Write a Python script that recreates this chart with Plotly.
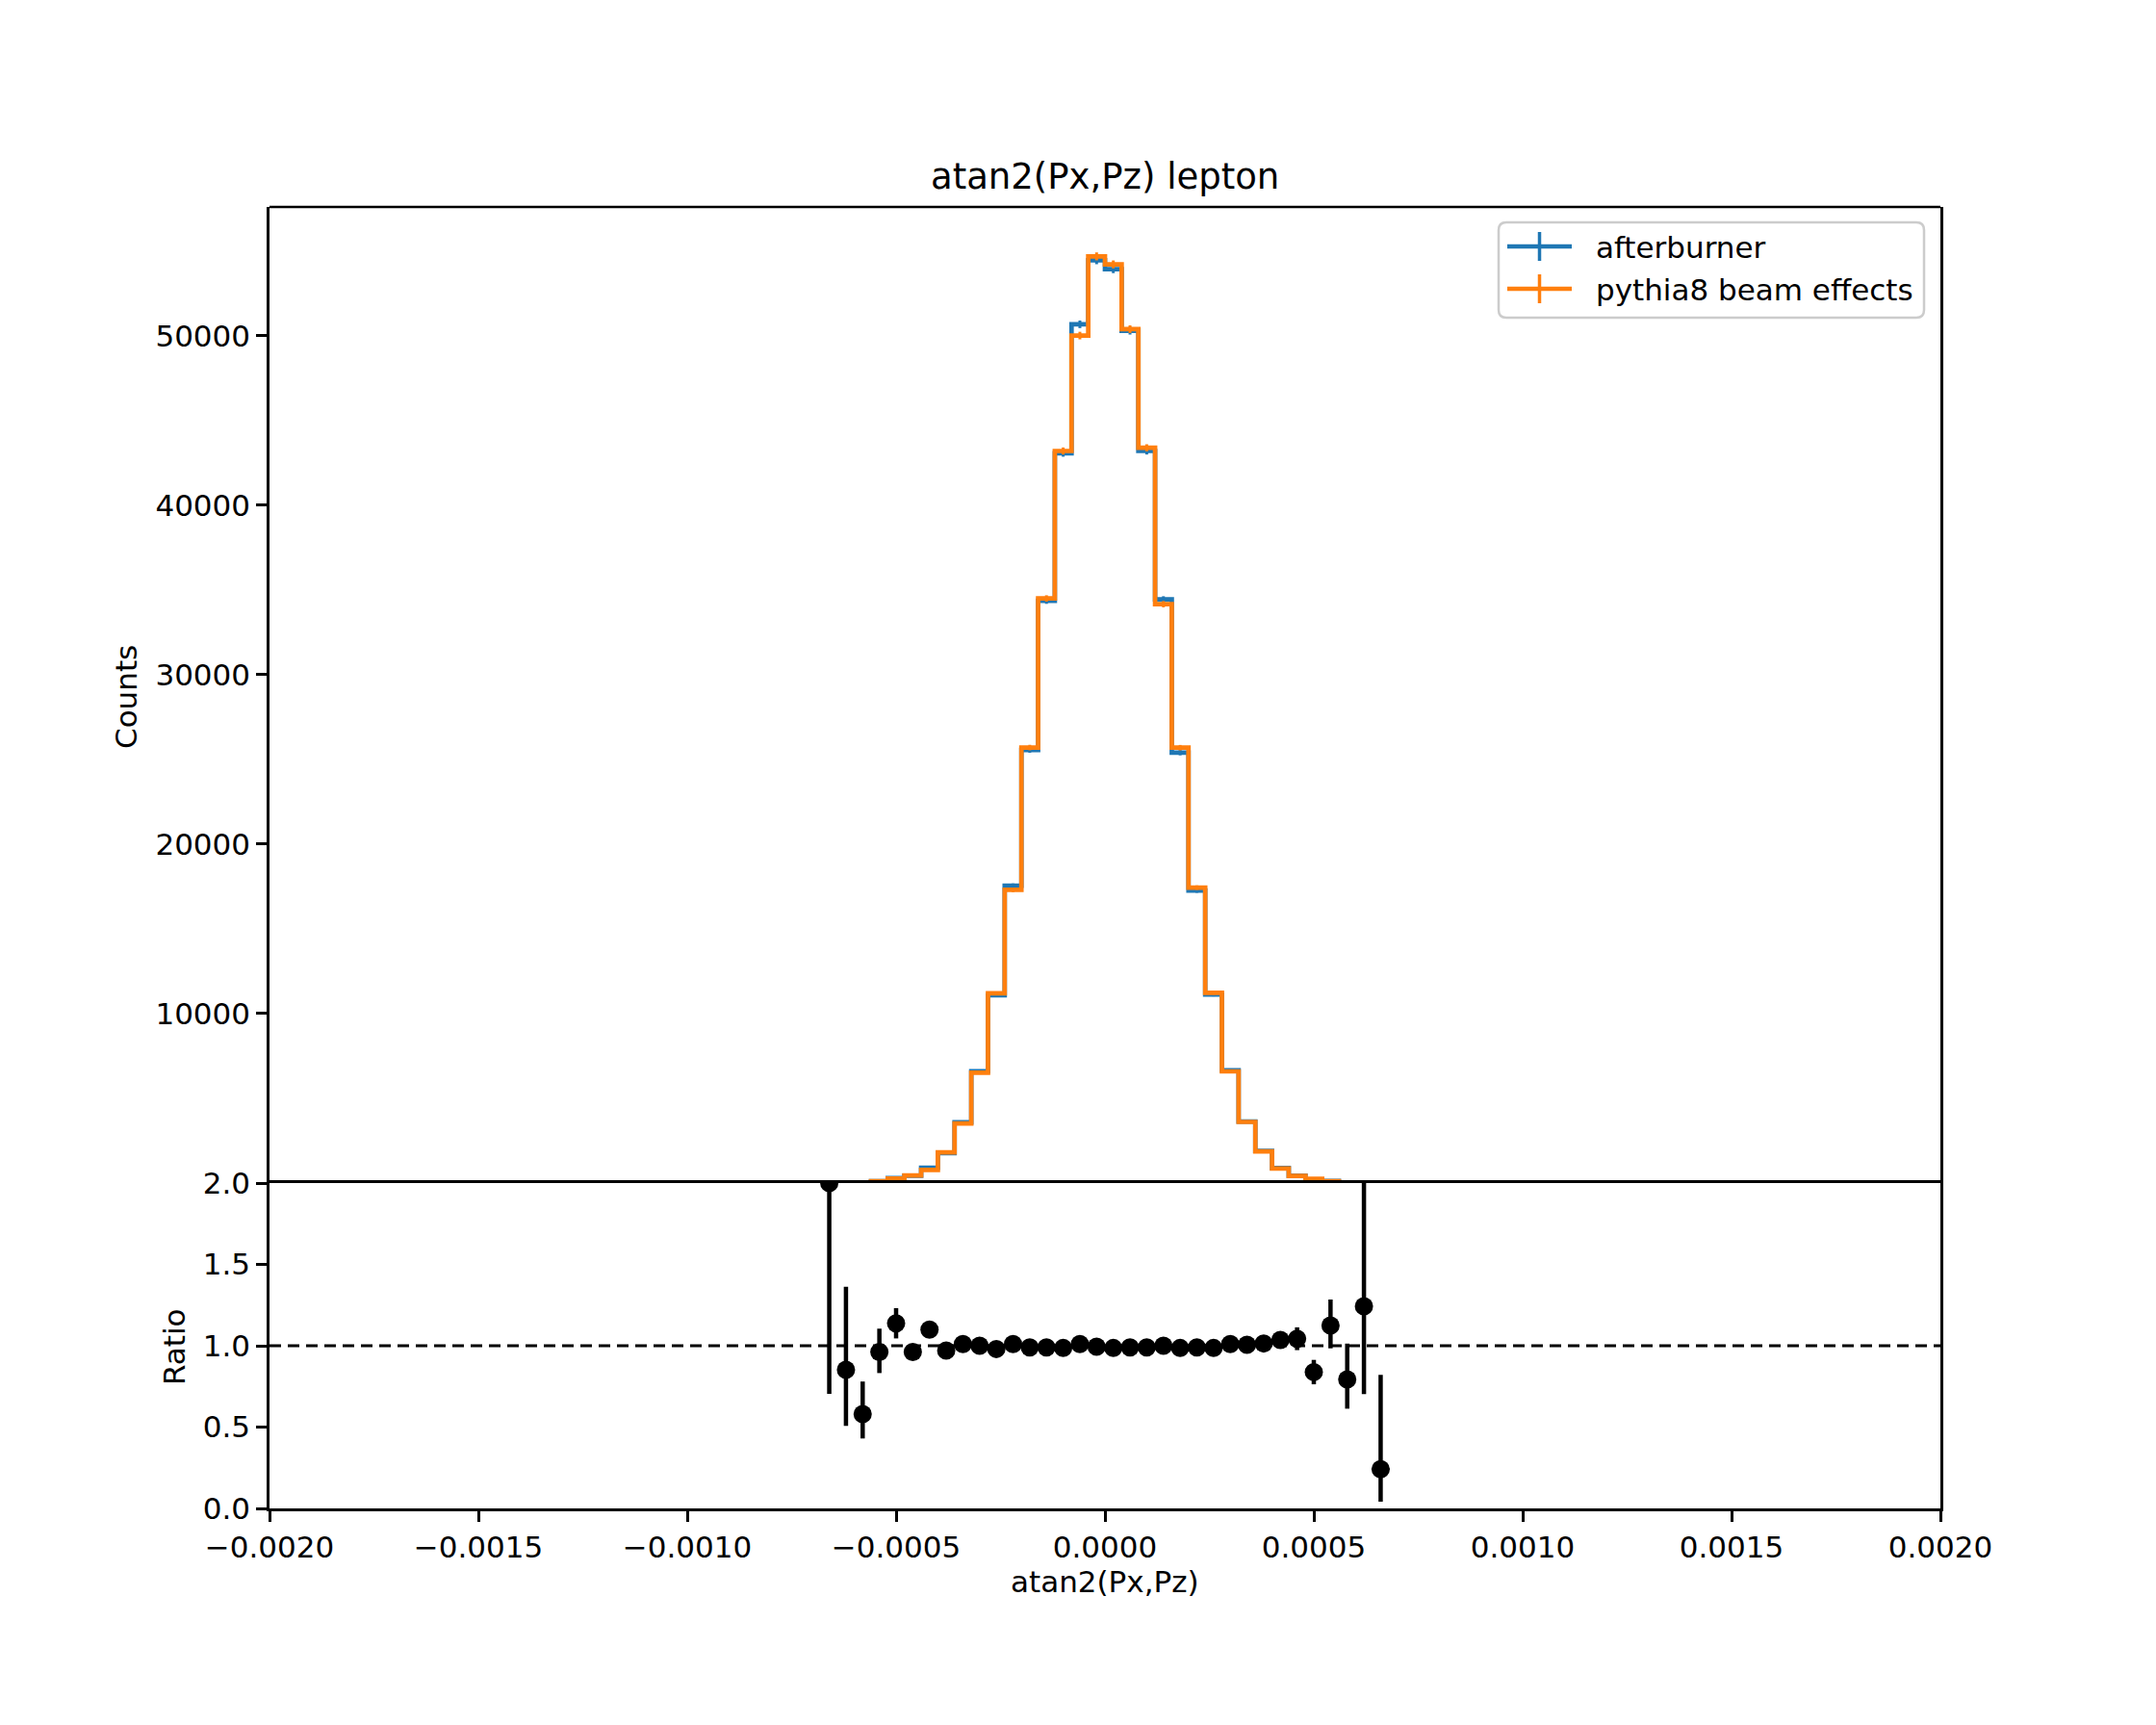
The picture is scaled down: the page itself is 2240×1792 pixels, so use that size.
import plotly.graph_objects as go
import numpy as np

# ---------------- data ----------------
# bin centres of the populated bins (bin width 0.00004, 100 bins on [-0.002, 0.002])
bin_centers = [-0.00066, -0.00062, -0.00058, -0.00054, -0.00050, -0.00046, -0.00042,
               -0.00038, -0.00034, -0.00030, -0.00026, -0.00022, -0.00018, -0.00014,
               -0.00010, -0.00006, -0.00002, 0.00002, 0.00006, 0.00010, 0.00014,
               0.00018, 0.00022, 0.00026, 0.00030, 0.00034, 0.00038, 0.00042,
               0.00046, 0.00050, 0.00054, 0.00058, 0.00062, 0.00066]
bin_width = 0.00004
x_range = [-0.002, 0.002]

afterburner = [8, 7, 16, 107, 296, 432, 900, 1760, 3590, 6600, 11078, 17548, 25550,
               34365, 43070, 50675, 54456, 53927, 50296, 43200, 34443, 25400, 17260,
               11120, 6650, 3628, 1893, 893, 438, 210, 119, 29, 12, 1]
pythia8 = [4, 8, 28, 111, 260, 450, 775, 1816, 3518, 6509, 11192, 17304, 25700,
           34500, 43200, 50011, 54683, 54211, 50390, 43389, 34160, 25692, 17435,
           11231, 6590, 3606, 1867, 862, 420, 250, 106, 36, 10, 4]

ratio = [2.0, 0.852, 0.580, 0.961, 1.138, 0.961, 1.099, 0.970, 1.010, 1.000, 0.980,
         1.010, 0.990, 0.990, 0.986, 1.010, 0.994, 0.986, 0.990, 0.990, 1.000, 0.986,
         0.990, 0.986, 1.010, 1.006, 1.014, 1.036, 1.043, 0.838, 1.124, 0.793, 1.243, 0.241]
ratio_err_up = [1.5, 0.51, 0.20, 0.144, 0.093, 0.05, 0.04, 0.03, 0.02, 0.015, 0.012,
                0.01, 0.008, 0.007, 0.006, 0.006, 0.006, 0.006, 0.006, 0.007, 0.008,
                0.009, 0.011, 0.013, 0.018, 0.025, 0.035, 0.05, 0.07, 0.075, 0.16,
                0.22, 0.9, 0.58]
ratio_err_down = [1.296, 0.345, 0.15, 0.129, 0.093, 0.05, 0.04, 0.03, 0.02, 0.015, 0.012,
                  0.01, 0.008, 0.007, 0.006, 0.006, 0.006, 0.006, 0.006, 0.007, 0.008,
                  0.009, 0.011, 0.013, 0.018, 0.025, 0.035, 0.05, 0.07, 0.075, 0.14,
                  0.18, 0.54, 0.20]

count_ticks = [10000, 20000, 30000, 40000, 50000]
ratio_ticks = [0.0, 0.5, 1.0, 1.5, 2.0]
ratio_ticktext = ["0.0", "0.5", "1.0", "1.5", "2.0"]
x_ticks = [-0.002, -0.0015, -0.001, -0.0005, 0.0, 0.0005, 0.001, 0.0015, 0.002]
x_ticktext = ["\u22120.0020", "\u22120.0015", "\u22120.0010", "\u22120.0005", "0.0000",
              "0.0005", "0.0010", "0.0015", "0.0020"]

labels = ["afterburner", "pythia8 beam effects"]
colors = ["#1f77b4", "#ff7f0e"]

# ---------------- figure geometry ----------------
PAGE = 8                         # default body margin of the html page
W, H = 2240 - 2 * PAGE, 1792 - 2 * PAGE
# plot area in page pixel coordinates
L, R, T, B = 280, 2016, 215, 1567
FONT = "DejaVu Sans"
FS = 31


def px(xp):
    return (xp - L) / (R - L)


def py(yp):
    return (B - yp) / (B - T)


def step_xy(counts):
    edges = [c - bin_width / 2 for c in bin_centers] + [bin_centers[-1] + bin_width / 2]
    xs = [x_range[0]] + edges + [x_range[1]]
    ys = [0] + list(counts) + [0, 0]
    return xs, ys


fig = go.Figure()

for counts, name, col in [(afterburner, labels[0], colors[0]), (pythia8, labels[1], colors[1])]:
    xs, ys = step_xy(counts)
    fig.add_trace(go.Scatter(x=xs, y=ys, mode="lines", line=dict(color=col, width=4.7, shape="hv"),
                             name=name, xaxis="x", yaxis="y", showlegend=False))
    fig.add_trace(go.Scatter(x=bin_centers, y=counts, mode="markers",
                             marker=dict(size=0.1, color=col, opacity=0),
                             error_y=dict(type="data", array=list(np.sqrt(counts)), color=col,
                                          thickness=3, width=0),
                             xaxis="x", yaxis="y", showlegend=False))

fig.add_trace(go.Scatter(x=bin_centers, y=ratio, mode="markers",
                         marker=dict(size=19, color="black"),
                         error_y=dict(type="data", symmetric=False, array=ratio_err_up,
                                      arrayminus=ratio_err_down, color="black", thickness=4.5, width=0),
                         xaxis="x2", yaxis="y2", showlegend=False, cliponaxis=True))

axis_common = dict(showline=True, linecolor="black", linewidth=2.5, mirror=True, showgrid=False,
                   zeroline=False, tickfont=dict(family=FONT, size=FS, color="black"),
                   ticklen=11, tickwidth=2.5, tickcolor="black")

fig.update_layout(
    width=W, height=H,
    margin=dict(l=L - PAGE, r=W - (R - PAGE), t=T - PAGE, b=H - (B - PAGE), pad=0),
    paper_bgcolor="white", plot_bgcolor="white",
    font=dict(family=FONT, size=FS, color="black"),
    showlegend=False,
    xaxis=dict(domain=[0, 1], anchor="y", range=x_range, showticklabels=False, ticks="",
               showline=False, showgrid=False, zeroline=False),
    yaxis=dict(domain=[0.25, 1], anchor="x", range=[0, 57600], tickmode="array",
               tickvals=count_ticks, ticktext=[str(v) for v in count_ticks], ticks="outside",
               **axis_common),
    xaxis2=dict(domain=[0, 1], anchor="y2", range=x_range, matches="x", tickmode="array",
                tickvals=x_ticks, ticktext=x_ticktext, ticks="outside", **axis_common),
    yaxis2=dict(domain=[0, 0.25], anchor="x2", range=[0, 2], tickmode="array",
                tickvals=ratio_ticks, ticktext=ratio_ticktext, ticks="outside", **axis_common),
)

# top border of the upper panel
fig.add_shape(type="line", xref="paper", yref="paper", x0=0, x1=1, y0=1, y1=1,
              line=dict(color="black", width=2.5), layer="above")

# dashed reference line at ratio = 1
fig.add_shape(type="line", xref="x2 domain", x0=0, x1=1, yref="y2", y0=1, y1=1,
              line=dict(color="black", width=2.8, dash="12px,7px"), layer="above")

# texts
fig.add_annotation(text="atan2(Px,Pz) lepton", xref="paper", yref="paper", x=0.5, y=py(183),
                   xanchor="center", yanchor="middle", showarrow=False,
                   font=dict(family=FONT, size=37, color="black"))
fig.add_annotation(text="atan2(Px,Pz)", xref="paper", yref="paper", x=0.5, y=py(1643),
                   xanchor="center", yanchor="middle", showarrow=False,
                   font=dict(family=FONT, size=FS, color="black"))
fig.add_annotation(text="Counts", xref="paper", yref="paper", x=px(131), y=py(724),
                   xanchor="center", yanchor="middle", textangle=-90, showarrow=False,
                   font=dict(family=FONT, size=FS, color="black"))
fig.add_annotation(text="Ratio", xref="paper", yref="paper", x=px(181), y=py(1399),
                   xanchor="center", yanchor="middle", textangle=-90, showarrow=False,
                   font=dict(family=FONT, size=FS, color="black"))

# legend (drawn manually to mimic matplotlib errorbar handles)
bx0, bx1, by0, by1, rr = 1557, 1999, 231, 330, 8
rx, ry = rr / (R - L), rr / (B - T)
X0, X1, Y0, Y1 = px(bx0), px(bx1), py(by0), py(by1)
path = (f"M {X0 + rx} {Y0} L {X1 - rx} {Y0} Q {X1} {Y0} {X1} {Y0 - ry} "
        f"L {X1} {Y1 + ry} Q {X1} {Y1} {X1 - rx} {Y1} L {X0 + rx} {Y1} "
        f"Q {X0} {Y1} {X0} {Y1 + ry} L {X0} {Y0 - ry} Q {X0} {Y0} {X0 + rx} {Y0} Z")
fig.add_shape(type="path", path=path, xref="paper", yref="paper",
              fillcolor="rgba(255,255,255,0.8)", line=dict(color="#cccccc", width=2.5), layer="above")
for i, (lab, col) in enumerate(zip(labels, colors)):
    yc = 256 + 44 * i
    fig.add_shape(type="line", xref="paper", yref="paper", x0=px(1566), x1=px(1633),
                  y0=py(yc), y1=py(yc), line=dict(color=col, width=4.7), layer="above")
    fig.add_shape(type="line", xref="paper", yref="paper", x0=px(1599.5), x1=px(1599.5),
                  y0=py(yc - 15), y1=py(yc + 15), line=dict(color=col, width=3.5), layer="above")
    fig.add_annotation(text=lab, xref="paper", yref="paper", x=px(1656), y=py(yc + 1),
                       xanchor="left", yanchor="middle", showarrow=False,
                       font=dict(family=FONT, size=FS, color="black"))

fig.write_html("out.html")
